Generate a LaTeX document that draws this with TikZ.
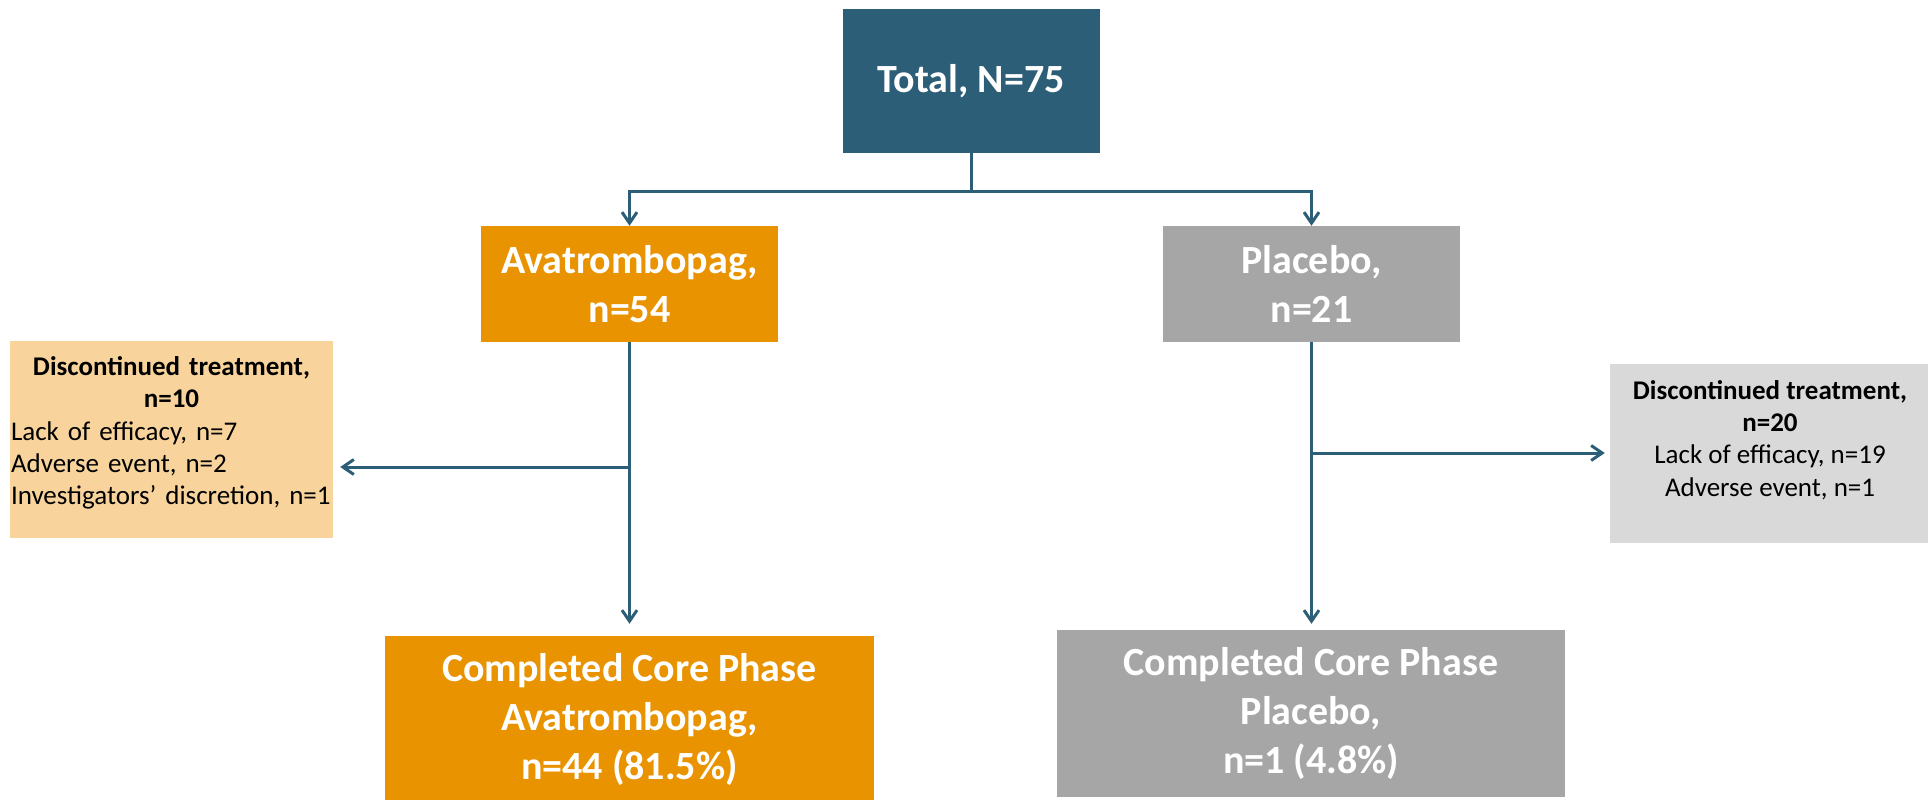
\documentclass[tikz,border=0pt]{standalone}
\usepackage{fontspec}
\setmainfont{Carlito}
\usetikzlibrary{arrows.meta}
\definecolor{navy}{HTML}{2D5E77}
\definecolor{orng}{HTML}{E99300}
\definecolor{gry}{HTML}{A6A6A6}
\definecolor{lorng}{HTML}{F8D49C}
\definecolor{lgry}{HTML}{D9D9D9}
\begin{document}
\begin{tikzpicture}[x=1pt,y=-1pt,
  box/.style={draw=none, inner sep=0pt, text=white, font=\bfseries\fontsize{40}{49}\selectfont, align=center},
  sidebox/.style={draw=none, inner sep=0pt},
  sidetext/.style={inner sep=0pt, font=\fontsize{27}{32.3}\selectfont},
  conn/.style={draw=navy, line width=3pt},
  arr/.style={conn, -{Straight Barb[length=11pt,width=15pt]}}]
\useasboundingbox (0,0) rectangle (1928,800);
% main boxes
\node[box, fill=navy, minimum width=257pt, minimum height=144pt] (T) at (971,81) {Total, N=75};
\node[box, fill=orng, minimum width=297pt, minimum height=116pt] (A) at (629.5,284) {Avatrombopag,\\n=54};
\node[box, fill=gry, minimum width=297pt, minimum height=116pt] (P) at (1311.5,284) {Placebo,\\n=21};
\node[box, fill=orng, minimum width=489pt, minimum height=166pt] (CA) at (629.5,719) {Completed Core Phase\\Avatrombopag,\\n=44 (81.5\%)};
\node[box, fill=gry, minimum width=508pt, minimum height=167pt] (CP) at (1311,713.5) {Completed Core Phase\\Placebo,\\n=1 (4.8\%)};
% side boxes
\node[sidebox, fill=lorng, minimum width=323pt, minimum height=197pt] (DAbox) at (171.5,439.5) {};
\node[sidetext, text width=321pt, align=left] (DAtxt) at (171.5,433)
  {{\centering\bfseries Discontinued treatment,\\ n=10\par}Lack of efficacy, n=7\\Adverse event, n=2\\Investigators’ discretion, n=1};
\node[sidebox, fill=lgry, minimum width=320pt, minimum height=179pt] (DPbox) at (1770,453.5) {};
\node[sidetext, align=center] (DPtxt) at (1770,440)
  {\textbf{Discontinued treatment,}\\\textbf{n=20}\\Lack of efficacy, n=19\\Adverse event, n=1};
% connectors
\coordinate (Jy) at (0,191);
\coordinate (Ay) at (0,467);
\coordinate (Py) at (0,453);
\coordinate (Tj) at (T.south |- Jy);
\draw[conn] (T.south) -- (Tj);
\draw[arr] (Tj) -| (A.north);
\draw[arr] (Tj) -| (P.north);
\draw[arr, shorten >=12pt] (A.south) -- (CA.north);
\coordinate (Ab) at (A.south |- Ay);
\draw[arr, shorten >=7pt] (Ab) -- (Ab -| DAbox.east);
\draw[arr, shorten >=6pt] (P.south) -- (P.south |- CP.north);
\coordinate (Pb) at (P.south |- Py);
\draw[arr, shorten >=5pt] (Pb) -- (Pb -| DPbox.west);
\end{tikzpicture}
\end{document}
